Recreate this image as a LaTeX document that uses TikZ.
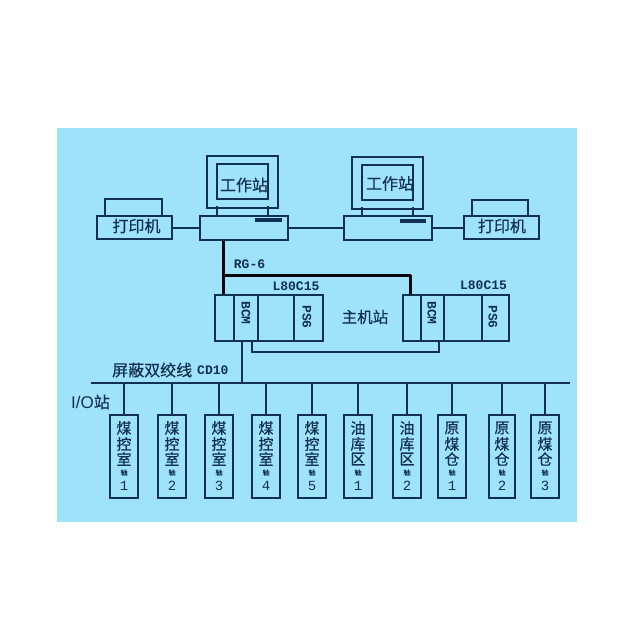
\documentclass[tikz,border=0pt]{standalone}
\usepackage{fontspec}
\setmainfont{Liberation Sans}
\setmonofont{Liberation Mono}
\newfontfamily\cjk[FakeBold=0.5]{Noto Sans CJK SC}
\definecolor{bgc}{HTML}{9FE3F8}
\definecolor{ink}{HTML}{12304F}
\tikzset{
  ln/.style={draw=ink,line width=1.7pt},
  heavy/.style={draw=black!85!ink,line width=3pt},
  boxx/.style={draw=ink,line width=1.7pt,fill=bgc,inner sep=0pt,minimum width=#1},
  lab/.style={text=ink,inner sep=0pt,font=\cjk\fontsize{16}{16}\selectfont},
  latin/.style={text=ink,inner sep=0pt,font=\ttfamily\bfseries\fontsize{13}{13}\selectfont},
  stack/.style={text=ink,inner sep=0pt,align=center,font=\cjk\fontsize{15}{15}\selectfont},
}
\newcommand{\ioBox}[6]{%
  \node[draw=ink,line width=1.7pt,fill=bgc,inner sep=0pt,minimum width=#3 pt,minimum height=83pt,anchor=north] (#1) at (#2,414) {};
  \node[stack] at (#2,428) {#4};
  \node[stack] at (#2,444) {#5};
  \node[stack] at (#2,459) {#6};
}
\begin{document}
\begin{tikzpicture}[x=1pt,y=-1pt]
\useasboundingbox (0,0) rectangle (640,640);
\fill[white] (0,0) rectangle (640,640);
\fill[bgc] (57,128) rectangle (577,522);

% monitors and bases
\foreach \n/\mx/\my/\bx/\sx in {a/207/156/199/255, b/352/157/343/400}{
  \draw[ln] (\mx+10,\my+50) -- (\mx+10,215) (\mx+61,\my+50) -- (\mx+61,215);
  \draw[ln] (\mx,\my) rectangle (\mx+71,\my+52);
  \draw[ln] (\mx+10,\my+8) rectangle (\mx+61,\my+43);
}
\node[lab] at (244,185) {工作站};
\node[lab] at (390,183.5) {工作站};
\node[boxx=88pt,minimum height=24pt,anchor=north west] (baseA) at (199,215) {};
\node[boxx=88pt,minimum height=24pt,anchor=north west] (baseB) at (343,215) {};
\fill[ink] (255,218) rectangle (282,222);
\fill[ink] (400,219) rectangle (426,223);

% printers
\draw[ln] (105,215) -- (105,199) -- (162,199) -- (162,215);
\draw[ln] (472,215) -- (472,200) -- (528,200) -- (528,215);
\node[boxx=75pt,minimum height=23pt,anchor=north west] (prA) at (96,215) {};
\node[boxx=75pt,minimum height=23pt,anchor=north west] (prB) at (463,215) {};
\node[lab] at (136.5,226) {打印机};
\node[lab] at (502,226) {打印机};

\draw[ln] (prA.east |- 0,228) -- (baseA.west |- 0,228);
\draw[ln] (baseA.east |- 0,228) -- (baseB.west |- 0,228);
\draw[ln] (baseB.east |- 0,228) -- (prB.west |- 0,228);

% PLC racks
\node[boxx=108pt,minimum height=46pt,anchor=north west] (plcA) at (214,294) {};
\node[boxx=106pt,minimum height=46pt,anchor=north west] (plcB) at (402,294) {};
\draw[ln] (234,294) -- (234,340) (258,294) -- (258,340) (294,294) -- (294,340);
\draw[ln] (421,294) -- (421,340) (444,294) -- (444,340) (482,294) -- (482,340);
\node[latin,rotate=-90] at (246,313) {BCM};
\node[latin,rotate=-90] at (307,317) {PS6};
\node[latin,rotate=-90] at (432,313) {BCM};
\node[latin,rotate=-90] at (493,317) {PS6};
\node[latin] at (296,286) {L80C15};
\node[latin] at (483.5,285) {L80C15};
\node[lab,font=\cjk\fontsize{15.5}{15.5}\selectfont] at (365,317) {主机站};
\node[latin] at (249.5,264) {RG-6};

% RG-6 network
\draw[heavy] (baseA.south -| 223,0) -- (plcA.north -| 223,0);
\draw[heavy,line join=round] (223,275) -- (410,275) -- (plcB.north -| 410,0);
\draw[ln] (plcA.south -| 252,0) -- (252,352) -- (439,352) -- (plcB.south -| 439,0);

% bus
\coordinate (busL) at (91,383);
\coordinate (busR) at (570,383);
\draw[ln] (busL) -- (busR);
\draw[ln] (plcA.south -| 242,0) -- (242,383);
\node[lab,anchor=west,font=\cjk\fontsize{16}{16}\selectfont] at (112,370) {屏蔽双绞线};
\node[latin,anchor=west] at (197,370) {CD10};
\node[lab,anchor=west,font=\cjk\fontsize{16}{16}\selectfont] at (71,402) {{\rmfamily\fontsize{17}{17}\selectfont I/O}站};

% I/O stations
\ioBox{s1}{124}{28}{煤}{控}{室}
\ioBox{s2}{172}{28}{煤}{控}{室}
\ioBox{s3}{219}{28}{煤}{控}{室}
\ioBox{s4}{266}{28}{煤}{控}{室}
\ioBox{s5}{312}{28}{煤}{控}{室}
\ioBox{s6}{358}{28}{油}{库}{区}
\ioBox{s7}{407}{28}{油}{库}{区}
\ioBox{s8}{452}{28}{原}{煤}{仓}
\ioBox{s9}{502}{26}{原}{煤}{仓}
\ioBox{s10}{545}{28}{原}{煤}{仓}
\foreach \n/\x/\d in {s1/124/1,s2/172/2,s3/219/3,s4/266/4,s5/312/5,s6/358/1,s7/407/2,s8/452/1,s9/502/2,s10/545/3}{
  \draw[ln] (\n.north) -- (\n.north |- busL);
  \node[text=ink,inner sep=0pt,font=\cjk\fontsize{7}{7}\selectfont] at (\x,472.5) {轴};
  \node[text=ink,inner sep=0pt,font=\ttfamily\fontsize{14}{14}\selectfont] at (\x,486) {\d};
}
\end{tikzpicture}
\end{document}
